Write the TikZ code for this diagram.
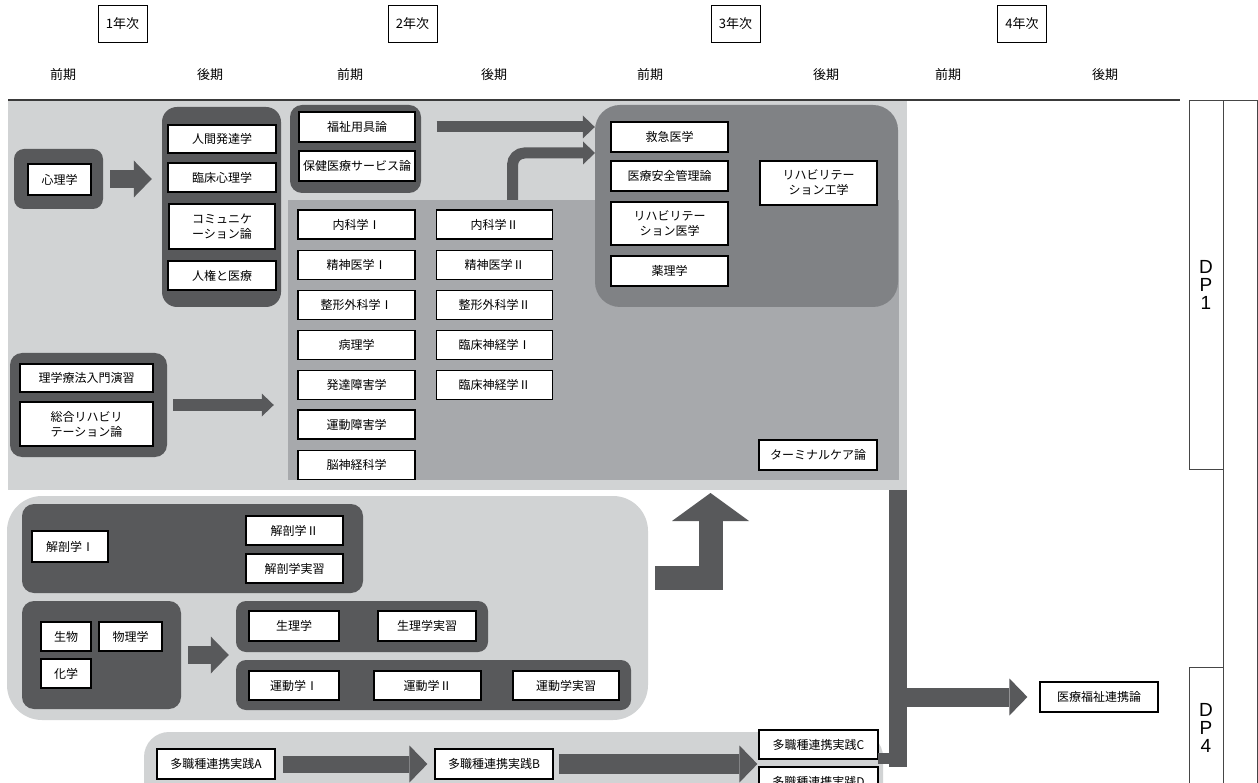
\documentclass[tikz,border=0pt]{standalone}
\usepackage{fontspec}
\setmainfont{Noto Sans CJK JP}
\newfontfamily\dpfont{Liberation Sans}
\usepackage{tikz}
\usetikzlibrary{
  arrows.meta,
  positioning,
  calc
}
\definecolor{lightbg}{RGB}{209, 211, 212}
\definecolor{midbg}{RGB}{167, 169, 172}
\definecolor{thirdbg}{RGB}{128, 130, 133}
\definecolor{groupcolor}{RGB}{88, 89, 91}
\definecolor{arrowcolor}{RGB}{88, 89, 91}
\definecolor{rulecolor}{RGB}{58, 58, 58}
\definecolor{dpcolor}{RGB}{70, 70, 70}
\tikzset{
subj/.style={
  draw=black,
  line width=1.2pt,
  fill=white,
  inner sep=0pt,
  align=center,
  minimum width=117pt,
  minimum height=29pt,
  font=\fontsize{12}{15}\selectfont
},
groupbox/.style={
  fill=groupcolor,
  rounded corners=12pt,
  inner sep=0pt
},
areabox/.style={
  inner sep=0pt
},
yearbox/.style={
  draw=black,
  line width=0.8pt,
  minimum width=49pt,
  minimum height=37pt,
  font=\fontsize{13}{15}\selectfont
},
termlabel/.style={
  font=\fontsize{13}{15}\selectfont
},
dpbox/.style={
  draw=dpcolor,
  line width=0.8pt,
  minimum width=34pt,
  inner sep=0pt,
  align=center,
  font=\dpfont\fontsize{19}{18}\selectfont
},
bigarrow/.style={
  draw=arrowcolor,
  line width=18pt,
  -{Triangle[width=37pt,length=18pt,line width=0pt]}
},
midarrow/.style={
  draw=arrowcolor,
  line width=12pt,
  -{Triangle[width=23pt,length=12pt,line width=0pt]}
},
thinarrow/.style={
  draw=arrowcolor,
  line width=11pt,
  -{Triangle[width=23pt,length=12pt,line width=0pt]}
}
}

\begin{document}
\begin{tikzpicture}[x=1pt, y=-1pt,
    uparrow/.style={draw=arrowcolor, line width=24pt,
                    -{Triangle[width=77pt,length=28pt,line width=0pt]}},
    barline/.style={draw=arrowcolor, line width=18pt}
  ]
  \useasboundingbox (0,0) rectangle (1258,783);
  \clip (0,0) rectangle (1258,783);
  \fill[white] (0,0) rectangle (1258,783);

  % header
  \node[yearbox] (y1) at (122.5,24) {1年次};
  \node[yearbox] (y2) at (412.5,24) {2年次};
  \node[yearbox] (y3) at (735.5,24) {3年次};
  \node[yearbox] (y4) at (1022,24) {4年次};

  \node[termlabel] (t1) at (63,75) {前期};
  \node[termlabel] (t2) at (210,75) {後期};
  \node[termlabel] (t3) at (350,75) {前期};
  \node[termlabel] (t4) at (494,75) {後期};
  \node[termlabel] (t5) at (650,75) {前期};
  \node[termlabel] (t6) at (826,75) {後期};
  \node[termlabel] (t7) at (948,75) {前期};
  \node[termlabel] (t8) at (1105,75) {後期};

  \draw[rulecolor, line width=2.5pt] (8,100) -- (1180,100);

  % DP columns
  \node[dpbox, minimum height=700pt] (dpcol) at (1240,450) {};
  \node[dpbox, minimum height=369pt] (dp1) at (1206,284.5) {D\\P\\1};
  \node[dpbox, minimum height=133pt, text depth=0pt] (dp4) at (1206,733.5) {};
  \node[font=\dpfont\fontsize{19}{18}\selectfont, align=center] (dp4t) at (1206,728) {D\\P\\4};

  % upper area
  \node[areabox, fill=lightbg, minimum width=899pt, minimum height=389pt] (topbg) at (457.5,295.5) {};
  \node[areabox, fill=midbg, minimum width=611pt, minimum height=280pt] (medbg) at (593.5,340) {};
  \node[areabox, fill=thirdbg, rounded corners=25pt, minimum width=303pt, minimum height=202pt] (gthird) at (746.5,206) {};

  \node[groupbox, rounded corners=10pt, minimum width=89pt, minimum height=60pt] (gpsy) at (58.5,179) {};
  \node[subj, minimum width=63pt, minimum height=31pt] (shinri) at (59.5,179.5) {心理学};

  \node[groupbox, rounded corners=15pt, minimum width=119pt, minimum height=200pt] (ghuman) at (221.5,207) {};
  \node[subj, minimum width=108pt, minimum height=28pt] (ningen) at (222,139) {人間発達学};
  \node[subj, minimum width=108pt] (rinshin) at (222,177.5) {臨床心理学};
  \node[subj, minimum width=106pt, minimum height=45pt] (komyu) at (222,226.5) {コミュニケ\\ーション論};
  \node[subj, minimum width=108pt] (jinken) at (222,275.5) {人権と医療};

  \node[groupbox, minimum width=131pt, minimum height=88pt] (gwel) at (355.5,149) {};
  \node[subj, minimum width=116pt, minimum height=30pt] (fukushi) at (357,127) {福祉用具論};
  \node[subj, minimum width=116pt, minimum height=30pt] (hoken) at (357,166) {保健医療サービス論};

  \node[subj] (naika1) at (356.5,224.5) {内科学Ⅰ};
  \node[subj, below=10pt of naika1] (seishin1) {精神医学Ⅰ};
  \node[subj, below=10pt of seishin1] (seikei1) {整形外科学Ⅰ};
  \node[subj, below=10pt of seikei1] (byori) {病理学};
  \node[subj, below=10pt of byori] (hattatsu) {発達障害学};
  \node[subj, below=9pt of hattatsu] (undoshogai) {運動障害学};
  \node[subj, below=10pt of undoshogai] (noshinkei) {脳神経科学};

  \node[subj, minimum width=116pt] (naika2) at (494.5,224.5) {内科学Ⅱ};
  \node[subj, minimum width=116pt, below=10pt of naika2] (seishin2) {精神医学Ⅱ};
  \node[subj, minimum width=116pt, below=10pt of seishin2] (seikei2) {整形外科学Ⅱ};
  \node[subj, minimum width=116pt, below=10pt of seikei2] (rinkei1) {臨床神経学Ⅰ};
  \node[subj, minimum width=116pt, below=10pt of rinkei1] (rinkei2) {臨床神経学Ⅱ};

  \node[subj, minimum height=30pt] (kyukyu) at (669.5,137) {救急医学};
  \node[subj, minimum height=30pt] (anzen) at (669.5,176) {医療安全管理論};
  \node[subj, minimum height=43pt] (rehaigaku) at (669.5,223.5) {リハビリテー\\ション医学};
  \node[subj, minimum height=30pt] (yakuri) at (669.5,271) {薬理学};
  \node[subj, minimum height=44pt] (rehakogaku) at (818.5,183) {リハビリテー\\ション工学};
  \node[subj, minimum width=118pt, minimum height=30pt] (terminal) at (818,455) {ターミナルケア論};

  \node[groupbox, minimum width=157pt, minimum height=104pt] (gpt) at (88.5,405) {};
  \node[subj, minimum width=133pt, minimum height=28pt] (nyumon) at (86.5,378) {理学療法入門演習};
  \node[subj, minimum width=133pt, minimum height=44pt] (sogo) at (86.5,424) {総合リハビリ\\テーション論};

  \draw[bigarrow, shorten <=7pt, shorten >=10pt] (gpsy.east) -- (gpsy.east -| ghuman.west);
  \draw[thinarrow, shorten <=21pt] (fukushi.east) -- (fukushi.east -| gthird.west);
  \coordinate (elbow) at (512.5,200);
  \coordinate (elbowend) at (595,153);
  \draw[thinarrow, rounded corners=12pt] (elbow) |- (elbowend);
  \draw[midarrow, shorten <=6pt, shorten >=14pt] (gpt.east) -- (gpt.east -| medbg.west);

  % basic area
  \node[areabox, fill=lightbg, rounded corners=35pt, minimum width=641pt, minimum height=224pt] (gbase) at (327.5,608) {};

  \node[groupbox, minimum width=341pt, minimum height=89pt] (ganat) at (192.5,548.5) {};
  \node[subj, minimum width=76pt, minimum height=31pt] (kaibo1) at (70,546.5) {解剖学Ⅰ};
  \node[subj, minimum width=97pt] (kaibo2) at (294.5,530.5) {解剖学Ⅱ};
  \node[subj, minimum width=97pt] (kaibojisshu) at (294.5,568.5) {解剖学実習};

  \node[groupbox, minimum width=159pt, minimum height=108pt] (gsci) at (101.5,655) {};
  \node[subj, minimum width=50pt] (seibutsu) at (66,636.5) {生物};
  \node[subj, minimum width=63pt] (butsuri) at (130.5,636.5) {物理学};
  \node[subj, minimum width=50pt] (kagaku) at (66,673.5) {化学};

  \node[groupbox, rounded corners=10pt, minimum width=252pt, minimum height=51pt] (gphys) at (362,626.5) {};
  \node[subj, minimum width=90pt, minimum height=30pt] (seiri) at (294,626) {生理学};
  \node[subj, minimum width=98pt, minimum height=30pt] (seirijisshu) at (427,626) {生理学実習};

  \node[groupbox, rounded corners=10pt, minimum width=395pt, minimum height=50pt] (gkin) at (433.5,685) {};
  \node[subj, minimum width=90pt] (undo1) at (294,685.5) {運動学Ⅰ};
  \node[subj, minimum width=107pt] (undo2) at (427.5,685.5) {運動学Ⅱ};
  \node[subj, minimum width=106pt] (undojisshu) at (566,685.5) {運動学実習};

  \draw[bigarrow, shorten <=7pt, shorten >=7pt] (gsci.east) -- (gsci.east -| gphys.west);
  \coordinate (upstart) at (655,578);
  \coordinate (uptip) at (710.5,490);
  \draw[uparrow, shorten >=3pt] (upstart) -| (uptip);

  % interprofessional practice
  \node[areabox, fill=lightbg, rounded corners=25pt, minimum width=739pt, minimum height=88pt] (gmulti) at (513.5,776) {};
  \node[subj, minimum width=118pt, minimum height=30pt] (multiA) at (216,764) {多職種連携実践A};
  \node[subj, minimum width=118pt, minimum height=30pt] (multiB) at (494,764) {多職種連携実践B};
  \node[subj, minimum width=119pt] (multiC) at (818.5,744.5) {多職種連携実践C};
  \node[subj, minimum width=119pt] (multiD) at (818.5,781.5) {多職種連携実践D};

  \draw[bigarrow, line width=17pt, shorten <=7pt, shorten >=7pt] (multiA.east) -- (multiB.west);
  \draw[bigarrow, line width=20pt, shorten <=5pt, shorten >=1pt] (multiB.east) -- (multiB.east -| multiC.west);

  \node[subj, minimum width=118pt, minimum height=30pt] (iryo) at (1099,697) {医療福祉連携論};
  \coordinate (barbot) at (898,767);
  \coordinate (cdjoin) at (878,758.5);
  \draw[barline] (topbg.south -| barbot) -- (barbot);
  \draw[arrowcolor, line width=11pt] (cdjoin) -- (cdjoin -| barbot);
  \draw[bigarrow, line width=19pt, shorten >=12pt] (iryo.west -| barbot) -- (iryo.west);
\end{tikzpicture}
\end{document}
